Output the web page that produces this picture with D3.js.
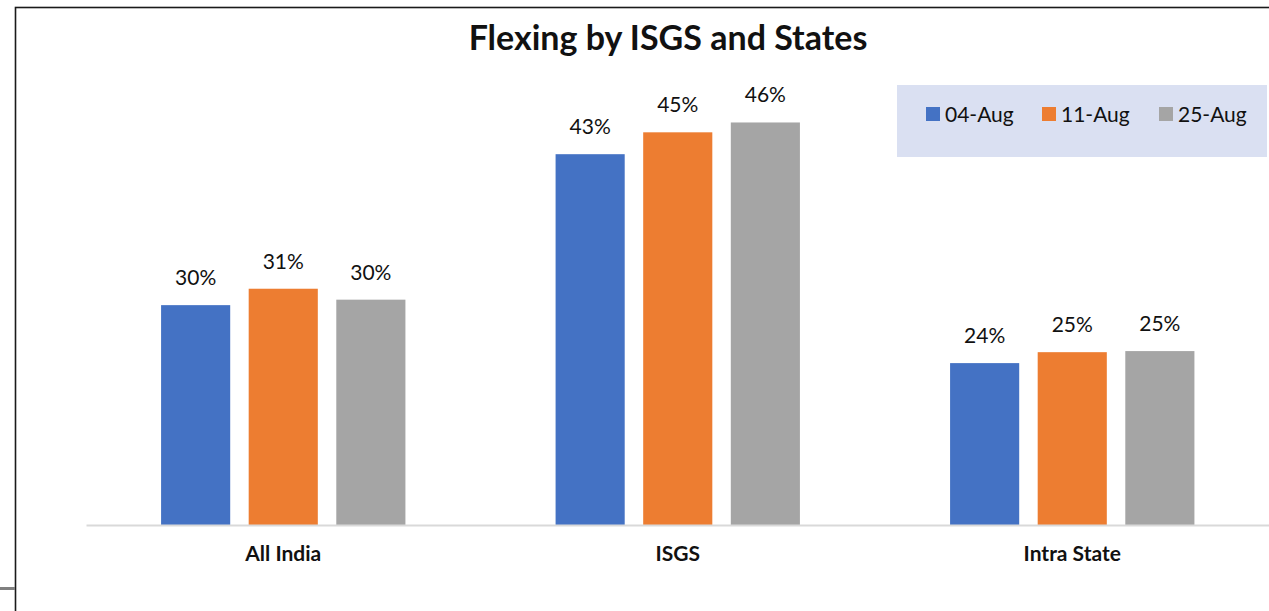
<!DOCTYPE html>
<html>
<head>
<meta charset="utf-8">
<script src="https://cdn.jsdelivr.net/npm/d3@7"></script>
<style>
  body { margin: 0; background: #fff; }
  svg { display: block; font-family: Lato, "Open Sans", sans-serif; }
</style>
</head>
<body>
<svg width="1269" height="611"></svg>
<script>
// categories and series
var categories = ["All India", "ISGS", "Intra State"];
var keys = ["04-Aug", "11-Aug", "25-Aug"];
var aug04 = [0.296, 0.434, 0.243];
var aug11 = [0.311, 0.454, 0.253];
var aug25 = [0.301, 0.463, 0.254];

var data = categories.map(function(c, i) {
  return { cat: c, "04-Aug": aug04[i], "11-Aug": aug11[i], "25-Aug": aug25[i] };
});

var svg = d3.select("svg");

// outer frame
svg.append("rect")
  .attr("x", 15.5).attr("y", 7.5)
  .attr("width", 1300).attr("height", 700)
  .attr("fill", "none").attr("stroke", "#1a1a1a").attr("stroke-width", 1.6);
svg.append("rect")
  .attr("x", 0).attr("y", 587).attr("width", 15).attr("height", 3)
  .attr("fill", "#808080");

var x = d3.scaleBand()
  .domain(categories)
  .range([86, 1269.5])
  .padding(0);

var bar = d3.scaleBand()
  .domain(keys)
  .range([0, x.bandwidth()])
  .paddingInner(0.211)
  .paddingOuter(0.857);

var y = d3.scaleLinear()
  .domain([0.095, 0.5])
  .range([525, 82]);

var color = d3.scaleOrdinal()
  .domain(keys)
  .range(["#4472c4", "#ed7d31", "#a5a5a5"]);

var fmt = d3.format(".0%");

var groups = svg.append("g")
  .selectAll("g")
  .data(data)
  .enter().append("g")
    .attr("transform", function(d) { return "translate(" + x(d.cat) + ",0)"; });

var cells = groups.selectAll("g")
  .data(function(d) { return keys.map(function(k) { return {key: k, value: d[k]}; }); })
  .enter().append("g");

cells.append("rect")
  .attr("x", function(d) { return bar(d.key); })
  .attr("y", function(d) { return y(d.value); })
  .attr("width", bar.bandwidth())
  .attr("height", function(d) { return y.range()[0] - y(d.value); })
  .attr("fill", function(d) { return color(d.key); });

cells.append("text")
  .attr("x", function(d) { return bar(d.key) + bar.bandwidth() / 2; })
  .attr("y", function(d) { return y(d.value) - 20; })
  .attr("text-anchor", "middle")
  .attr("font-size", 21)
  .attr("fill", "#111")
  .text(function(d) { return fmt(d.value); });

// baseline + category labels
var xAxis = svg.append("g")
  .attr("transform", "translate(0,525)")
  .call(d3.axisBottom(x).tickSize(0).tickPadding(0));
xAxis.select(".domain").attr("stroke", "#d9d9d9").attr("stroke-width", 2);
xAxis.selectAll("text")
  .attr("y", 36)
  .attr("dy", 0)
  .attr("font-family", "Lato, sans-serif")
  .attr("font-size", 21)
  .attr("font-weight", "bold")
  .attr("fill", "#111");

// title
svg.append("text")
  .attr("x", 668).attr("y", 50)
  .attr("text-anchor", "middle")
  .attr("font-size", 34)
  .attr("font-weight", "bold")
  .attr("fill", "#111")
  .text("Flexing by ISGS and States");

// legend
var legend = svg.append("g");
legend.append("rect")
  .attr("x", 897).attr("y", 85).attr("width", 370).attr("height", 72)
  .attr("fill", "#dae0f2");

var legendX = [926, 1042, 1159];
var item = legend.selectAll("g")
  .data(keys)
  .enter().append("g")
    .attr("transform", function(d, i) { return "translate(" + legendX[i] + ",107)"; });
item.append("rect")
  .attr("width", 14).attr("height", 14)
  .attr("fill", color);
item.append("text")
  .attr("x", 19).attr("y", 14.5)
  .attr("font-size", 21)
  .attr("fill", "#111")
  .text(function(d) { return d; });
</script>
</body>
</html>
